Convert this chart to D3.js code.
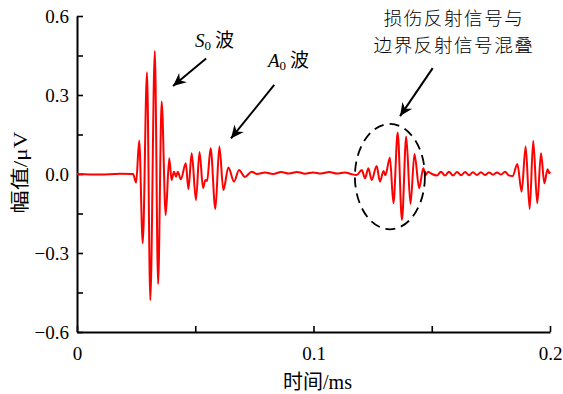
<!DOCTYPE html>
<html>
<head>
<meta charset="utf-8">
<script src="https://cdn.jsdelivr.net/npm/d3@7"></script>
<style>
  html, body { margin: 0; padding: 0; background: #fff; }
  svg { display: block; }
</style>
</head>
<body>
<svg id="chart" width="563" height="394"></svg>
<script>
// Received waveform: time (ms) and amplitude (µV) at the turning points of the trace
const timeMs = [
  0, 0.0097, 0.0182, 0.0237, 0.0250, 0.0263, 0.0278, 0.0296, 0.0310, 0.0329,
  0.0343, 0.0358, 0.0375, 0.0390, 0.0400, 0.0410, 0.0419, 0.0426, 0.0439, 0.0460,
  0.0471, 0.0485, 0.0503, 0.0518, 0.0533, 0.0543, 0.0550, 0.0565, 0.0585, 0.0602,
  0.0619, 0.0640, 0.0664, 0.0685, 0.0710, 0.0739, 0.0761, 0.0795, 0.0829, 0.0863,
  0.0896, 0.0930, 0.0964, 0.0998, 0.1032, 0.1066, 0.1099, 0.1133, 0.1159, 0.1183,
  0.1204, 0.1218, 0.1232, 0.1246, 0.1267, 0.1281, 0.1296, 0.1304, 0.1323, 0.1338,
  0.1356, 0.1374, 0.1392, 0.1410, 0.1427, 0.1447, 0.1464, 0.1474, 0.1485, 0.1501,
  0.1522, 0.1539, 0.1556, 0.1573, 0.1590, 0.1607, 0.1624, 0.1641, 0.1658, 0.1674,
  0.1691, 0.1708, 0.1725, 0.1742, 0.1759, 0.1776, 0.1793, 0.1810, 0.1824, 0.1842,
  0.1862, 0.1880, 0.1897, 0.1914, 0.1929, 0.1946, 0.1962, 0.1976, 0.1990, 0.1997,
  0.2000
];
const amplitude = [
  0, -0.002, 0.001, 0, -0.033, 0.126, -0.263, 0.386, -0.479, 0.467,
  -0.418, 0.275, -0.156, 0.060, -0.023, 0.009, -0.010, 0.009, -0.020, 0.041,
  -0.058, 0.079, -0.099, 0.084, -0.053, -0.023, -0.027, 0.098, -0.133, 0.104,
  -0.061, 0.025, -0.029, 0.015, -0.011, 0.009, 0.000, 0.006, 0.000, 0.008,
  0.002, 0.008, 0.001, 0.006, 0.002, 0.008, 0.002, 0.006, 0.000, -0.004,
  0.015, -0.016, 0.022, -0.023, 0.030, -0.029, 0.011, -0.004, 0.062, -0.111,
  0.158, -0.175, 0.142, -0.114, 0.076, -0.054, 0.022, -0.004, 0.009, 0.000,
  -0.006, 0.009, -0.006, 0.009, -0.006, 0.008, -0.005, 0.008, -0.005, 0.007,
  -0.004, 0.007, -0.004, 0.006, -0.003, 0.006, -0.002, 0.009, -0.004, -0.008,
  0.038, -0.067, 0.104, -0.133, 0.126, -0.111, 0.079, -0.035, 0.018, 0.003,
  0.009
];

// Axis ticks
const xMajorTicks = [0, 0.1, 0.2];
const xAllTicks = [0, 0.05, 0.1, 0.15, 0.2];
const yMajorTicks = [-0.6, -0.3, 0.0, 0.3, 0.6];
const yAllTicks = [-0.6, -0.45, -0.3, -0.15, 0, 0.15, 0.3, 0.45, 0.6];

// Annotations: [label start (ms, µV), arrow tip (ms, µV)]
const s0Arrow = [[0.0546, 0.439], [0.0406, 0.334]];
const a0Arrow = [[0.0834, 0.338], [0.0651, 0.135]];
const mixArrow = [[0.1504, 0.402], [0.1366, 0.220]];
// Dashed ellipse around the overlapping reflections: centre and radii (ms, µV)
const mixEllipse = { t: 0.1323, v: -0.010, rt: 0.0148, rv: 0.200 };

const SERIF = '"Liberation Serif", "Times New Roman", "Noto Sans CJK SC", serif';
const CJK = '"Noto Sans CJK SC", "Liberation Serif", sans-serif';

const svg = d3.select("#chart");
const margin = { left: 77, right: 13, top: 16, bottom: 62 };
const W = 563, H = 394;

const x = d3.scaleLinear().domain([0, 0.2]).range([margin.left, W - margin.right]);
const y = d3.scaleLinear().domain([-0.6, 0.6]).range([H - margin.bottom, margin.top]);

const fmtY = v => (v < 0 ? "\u2212" : "") + Math.abs(v).toFixed(1);
const fmtX = v => (v === 0 ? "0" : String(+v.toFixed(2)));

// Bottom axis with inward ticks
const xAxis = d3.axisBottom(x).tickValues(xAllTicks).tickSize(-6).tickSizeOuter(0)
  .tickFormat(d => xMajorTicks.some(m => Math.abs(m - d) < 1e-9) ? fmtX(d) : "");
const gx = svg.append("g").attr("transform", `translate(0,${y(-0.6)})`).call(xAxis)
  .attr("font-family", null).attr("font-size", null);
gx.select(".domain").attr("stroke", "#000").attr("stroke-width", 2);
gx.selectAll(".tick line").attr("stroke", "#000").attr("stroke-width", 1.6);
gx.selectAll(".tick text")
  .style("font-family", SERIF).style("font-size", "19px")
  .attr("fill", "#000").attr("dy", 0).attr("y", 27.5);

// Left axis with inward ticks
const yAxis = d3.axisLeft(y).tickValues(yAllTicks).tickSize(-6).tickSizeOuter(0)
  .tickFormat(d => yMajorTicks.some(m => Math.abs(m - d) < 1e-9) ? fmtY(d) : "");
const gy = svg.append("g").attr("transform", `translate(${x(0)},0)`).call(yAxis)
  .attr("font-family", null).attr("font-size", null);
gy.select(".domain").attr("stroke", "#000").attr("stroke-width", 2);
gy.selectAll(".tick line").attr("stroke", "#000").attr("stroke-width", 1.6);
gy.selectAll(".tick text")
  .style("font-family", SERIF).style("font-size", "19px")
  .attr("fill", "#000").attr("x", -8).attr("dy", "0.34em");

// Axis titles
svg.append("text")
  .style("font-family", SERIF).style("font-size", "20px")
  .attr("x", 317.5).attr("y", 389).attr("text-anchor", "middle")
  .attr("fill", "#000").text("时间/ms");
svg.append("text")
  .style("font-family", SERIF).style("font-size", "19px")
  .attr("transform", `translate(27,${y(0) - 1.5}) rotate(-90) scale(1.22,1)`)
  .attr("text-anchor", "middle").attr("fill", "#000")
  .text("幅值/μV");

// Waveform
const pts = timeMs.map((t, i) => [t, amplitude[i]]);
const line = d3.line().x(d => x(d[0])).y(d => y(d[1])).curve(d3.curveMonotoneX);
svg.append("path").datum(pts)
  .attr("d", line).attr("fill", "none")
  .attr("stroke", "#ff0000").attr("stroke-width", 2)
  .attr("stroke-linejoin", "round");

// Dashed ellipse
svg.append("ellipse")
  .attr("cx", x(mixEllipse.t)).attr("cy", y(mixEllipse.v))
  .attr("rx", x(mixEllipse.rt) - x(0)).attr("ry", y(0) - y(mixEllipse.rv))
  .attr("fill", "none").attr("stroke", "#000").attr("stroke-width", 1.8)
  .attr("stroke-dasharray", "10,6");

// Arrows
svg.append("defs").append("marker")
  .attr("id", "head").attr("viewBox", "-14 -7 16 14")
  .attr("markerWidth", 16).attr("markerHeight", 14)
  .attr("markerUnits", "userSpaceOnUse")
  .attr("refX", 0).attr("refY", 0).attr("orient", "auto")
  .append("path").attr("d", "M0,0 L-13,-6 L-9,0 L-13,6 Z").attr("fill", "#000");

[s0Arrow, a0Arrow, mixArrow].forEach(([a, b]) => {
  svg.append("line")
    .attr("x1", x(a[0])).attr("y1", y(a[1]))
    .attr("x2", x(b[0])).attr("y2", y(b[1]))
    .attr("stroke", "#000").attr("stroke-width", 2)
    .attr("marker-end", "url(#head)");
});

// Wave labels
function waveLabel(letter, xPos, yPos) {
  const t = svg.append("text")
    .style("font-family", SERIF).style("font-size", "19px")
    .attr("x", xPos).attr("y", yPos).attr("fill", "#000");
  t.append("tspan").attr("font-style", "italic").text(letter);
  t.append("tspan").style("font-size", "13px").attr("dy", 3).text("0");
  t.append("tspan").attr("dy", -3).attr("dx", 4).text("波");
}
waveLabel("S", 195, 47);
waveLabel("A", 268, 67);

// Reflection note, two centred lines
const note = ["损伤反射信号与", "边界反射信号混叠"];
note.forEach((s, i) => {
  svg.append("text")
    .style("font-family", CJK).style("font-size", "18.6px").style("font-weight", 300)
    .attr("x", 454).attr("y", 25 + i * 27).attr("text-anchor", "middle")
    .attr("letter-spacing", 1.5)
    .attr("fill", "#000").text(s);
});
</script>
</body>
</html>
